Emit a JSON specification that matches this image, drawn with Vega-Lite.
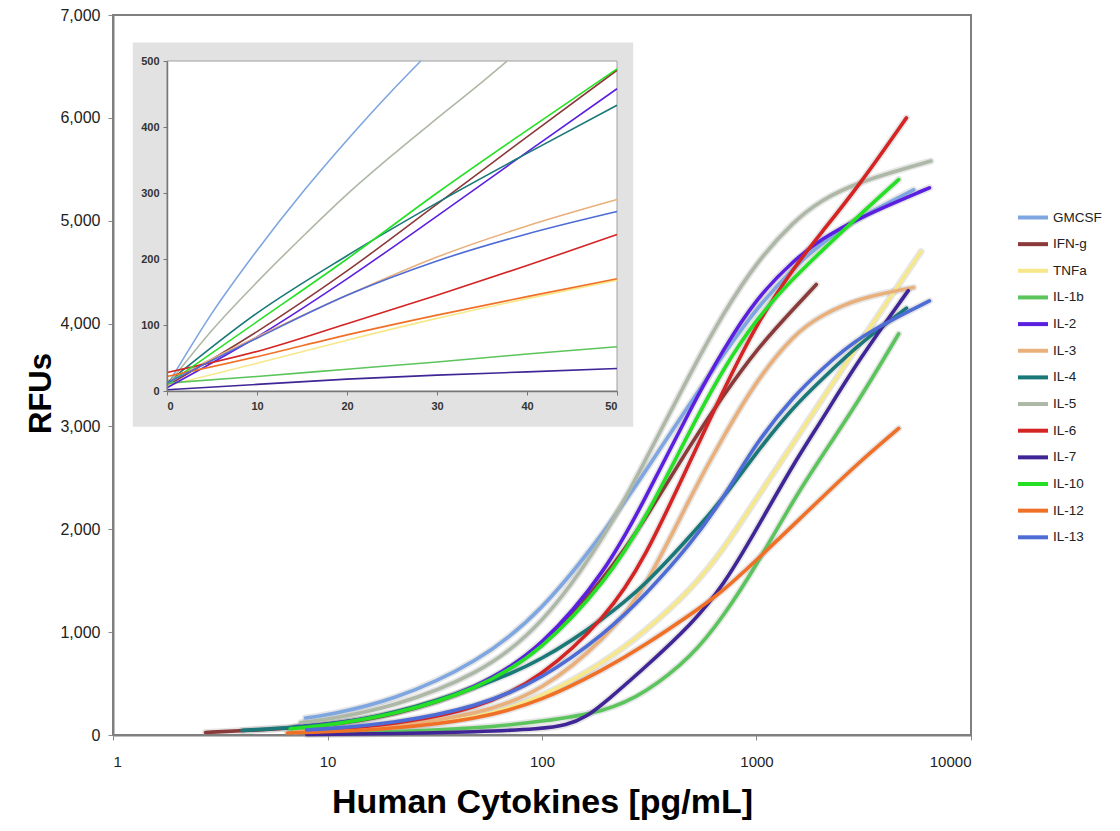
{
  "$schema": "https://vega.github.io/schema/vega-lite/v6.json",
  "width": 858,
  "height": 720,
  "autosize": {"type": "none"},
  "padding": {"left": 113, "top": 15, "right": 149, "bottom": 96},
  "background": "white",
  "config": {
    "view": {"stroke": "#7f7f7f", "strokeWidth": 2},
    "font": "Liberation Sans"
  },
  "datasets": {
    "main": [
      {"cytokine": "GMCSF", "conc": 7.9, "rfu": 165}, {"cytokine": "GMCSF", "conc": 10, "rfu": 195}, {"cytokine": "GMCSF", "conc": 20, "rfu": 330}, {"cytokine": "GMCSF", "conc": 50, "rfu": 700}, {"cytokine": "GMCSF", "conc": 100, "rfu": 1200}, {"cytokine": "GMCSF", "conc": 200, "rfu": 2000}, {"cytokine": "GMCSF", "conc": 300, "rfu": 2550}, {"cytokine": "GMCSF", "conc": 500, "rfu": 3250}, {"cytokine": "GMCSF", "conc": 700, "rfu": 3700}, {"cytokine": "GMCSF", "conc": 1000, "rfu": 4150}, {"cytokine": "GMCSF", "conc": 1500, "rfu": 4550}, {"cytokine": "GMCSF", "conc": 2000, "rfu": 4780}, {"cytokine": "GMCSF", "conc": 3000, "rfu": 5030}, {"cytokine": "GMCSF", "conc": 5400, "rfu": 5300},
      {"cytokine": "IFN-g", "conc": 2.7, "rfu": 25}, {"cytokine": "IFN-g", "conc": 4, "rfu": 40}, {"cytokine": "IFN-g", "conc": 10, "rfu": 90}, {"cytokine": "IFN-g", "conc": 20, "rfu": 185}, {"cytokine": "IFN-g", "conc": 50, "rfu": 440}, {"cytokine": "IFN-g", "conc": 100, "rfu": 830}, {"cytokine": "IFN-g", "conc": 200, "rfu": 1550}, {"cytokine": "IFN-g", "conc": 300, "rfu": 2080}, {"cytokine": "IFN-g", "conc": 500, "rfu": 2850}, {"cytokine": "IFN-g", "conc": 700, "rfu": 3300}, {"cytokine": "IFN-g", "conc": 1000, "rfu": 3750}, {"cytokine": "IFN-g", "conc": 1500, "rfu": 4150}, {"cytokine": "IFN-g", "conc": 1900, "rfu": 4380},
      {"cytokine": "TNFa", "conc": 7, "rfu": 25}, {"cytokine": "TNFa", "conc": 10, "rfu": 35}, {"cytokine": "TNFa", "conc": 20, "rfu": 65}, {"cytokine": "TNFa", "conc": 50, "rfu": 160}, {"cytokine": "TNFa", "conc": 100, "rfu": 360}, {"cytokine": "TNFa", "conc": 200, "rfu": 720}, {"cytokine": "TNFa", "conc": 300, "rfu": 1000}, {"cytokine": "TNFa", "conc": 500, "rfu": 1420}, {"cytokine": "TNFa", "conc": 700, "rfu": 1800}, {"cytokine": "TNFa", "conc": 1000, "rfu": 2300}, {"cytokine": "TNFa", "conc": 1500, "rfu": 2850}, {"cytokine": "TNFa", "conc": 2000, "rfu": 3250}, {"cytokine": "TNFa", "conc": 3000, "rfu": 3800}, {"cytokine": "TNFa", "conc": 5850, "rfu": 4700},
      {"cytokine": "IL-1b", "conc": 8, "rfu": 15}, {"cytokine": "IL-1b", "conc": 10, "rfu": 18}, {"cytokine": "IL-1b", "conc": 20, "rfu": 30}, {"cytokine": "IL-1b", "conc": 50, "rfu": 65}, {"cytokine": "IL-1b", "conc": 100, "rfu": 130}, {"cytokine": "IL-1b", "conc": 200, "rfu": 230}, {"cytokine": "IL-1b", "conc": 300, "rfu": 400}, {"cytokine": "IL-1b", "conc": 500, "rfu": 760}, {"cytokine": "IL-1b", "conc": 700, "rfu": 1150}, {"cytokine": "IL-1b", "conc": 1000, "rfu": 1650}, {"cytokine": "IL-1b", "conc": 1500, "rfu": 2300}, {"cytokine": "IL-1b", "conc": 2000, "rfu": 2700}, {"cytokine": "IL-1b", "conc": 3000, "rfu": 3250}, {"cytokine": "IL-1b", "conc": 4600, "rfu": 3900},
      {"cytokine": "IL-2", "conc": 7, "rfu": 80}, {"cytokine": "IL-2", "conc": 10, "rfu": 105}, {"cytokine": "IL-2", "conc": 20, "rfu": 190}, {"cytokine": "IL-2", "conc": 50, "rfu": 450}, {"cytokine": "IL-2", "conc": 100, "rfu": 850}, {"cytokine": "IL-2", "conc": 200, "rfu": 1600}, {"cytokine": "IL-2", "conc": 300, "rfu": 2280}, {"cytokine": "IL-2", "conc": 500, "rfu": 3200}, {"cytokine": "IL-2", "conc": 700, "rfu": 3750}, {"cytokine": "IL-2", "conc": 1000, "rfu": 4250}, {"cytokine": "IL-2", "conc": 1500, "rfu": 4620}, {"cytokine": "IL-2", "conc": 2000, "rfu": 4820}, {"cytokine": "IL-2", "conc": 3000, "rfu": 5030}, {"cytokine": "IL-2", "conc": 6400, "rfu": 5320},
      {"cytokine": "IL-3", "conc": 7, "rfu": 30}, {"cytokine": "IL-3", "conc": 10, "rfu": 40}, {"cytokine": "IL-3", "conc": 20, "rfu": 80}, {"cytokine": "IL-3", "conc": 50, "rfu": 200}, {"cytokine": "IL-3", "conc": 100, "rfu": 420}, {"cytokine": "IL-3", "conc": 200, "rfu": 950}, {"cytokine": "IL-3", "conc": 300, "rfu": 1400}, {"cytokine": "IL-3", "conc": 500, "rfu": 2350}, {"cytokine": "IL-3", "conc": 700, "rfu": 2900}, {"cytokine": "IL-3", "conc": 1000, "rfu": 3450}, {"cytokine": "IL-3", "conc": 1500, "rfu": 3900}, {"cytokine": "IL-3", "conc": 2000, "rfu": 4080}, {"cytokine": "IL-3", "conc": 3000, "rfu": 4250}, {"cytokine": "IL-3", "conc": 5400, "rfu": 4350},
      {"cytokine": "IL-4", "conc": 4, "rfu": 45}, {"cytokine": "IL-4", "conc": 10, "rfu": 90}, {"cytokine": "IL-4", "conc": 20, "rfu": 200}, {"cytokine": "IL-4", "conc": 50, "rfu": 460}, {"cytokine": "IL-4", "conc": 100, "rfu": 720}, {"cytokine": "IL-4", "conc": 200, "rfu": 1150}, {"cytokine": "IL-4", "conc": 300, "rfu": 1450}, {"cytokine": "IL-4", "conc": 500, "rfu": 1950}, {"cytokine": "IL-4", "conc": 700, "rfu": 2300}, {"cytokine": "IL-4", "conc": 1000, "rfu": 2750}, {"cytokine": "IL-4", "conc": 1500, "rfu": 3200}, {"cytokine": "IL-4", "conc": 2000, "rfu": 3450}, {"cytokine": "IL-4", "conc": 3000, "rfu": 3800}, {"cytokine": "IL-4", "conc": 5000, "rfu": 4150},
      {"cytokine": "IL-5", "conc": 7.5, "rfu": 120}, {"cytokine": "IL-5", "conc": 10, "rfu": 150}, {"cytokine": "IL-5", "conc": 20, "rfu": 270}, {"cytokine": "IL-5", "conc": 50, "rfu": 580}, {"cytokine": "IL-5", "conc": 100, "rfu": 1050}, {"cytokine": "IL-5", "conc": 200, "rfu": 1950}, {"cytokine": "IL-5", "conc": 300, "rfu": 2650}, {"cytokine": "IL-5", "conc": 500, "rfu": 3550}, {"cytokine": "IL-5", "conc": 700, "rfu": 4100}, {"cytokine": "IL-5", "conc": 1000, "rfu": 4600}, {"cytokine": "IL-5", "conc": 1500, "rfu": 5000}, {"cytokine": "IL-5", "conc": 2000, "rfu": 5200}, {"cytokine": "IL-5", "conc": 3000, "rfu": 5380}, {"cytokine": "IL-5", "conc": 6500, "rfu": 5580},
      {"cytokine": "IL-6", "conc": 8, "rfu": 45}, {"cytokine": "IL-6", "conc": 10, "rfu": 55}, {"cytokine": "IL-6", "conc": 20, "rfu": 100}, {"cytokine": "IL-6", "conc": 50, "rfu": 250}, {"cytokine": "IL-6", "conc": 100, "rfu": 560}, {"cytokine": "IL-6", "conc": 200, "rfu": 1150}, {"cytokine": "IL-6", "conc": 300, "rfu": 1700}, {"cytokine": "IL-6", "conc": 500, "rfu": 2700}, {"cytokine": "IL-6", "conc": 700, "rfu": 3350}, {"cytokine": "IL-6", "conc": 1000, "rfu": 4000}, {"cytokine": "IL-6", "conc": 1500, "rfu": 4550}, {"cytokine": "IL-6", "conc": 2000, "rfu": 4880}, {"cytokine": "IL-6", "conc": 3000, "rfu": 5340}, {"cytokine": "IL-6", "conc": 5000, "rfu": 6000},
      {"cytokine": "IL-7", "conc": 8, "rfu": 5}, {"cytokine": "IL-7", "conc": 10, "rfu": 7}, {"cytokine": "IL-7", "conc": 20, "rfu": 12}, {"cytokine": "IL-7", "conc": 50, "rfu": 30}, {"cytokine": "IL-7", "conc": 100, "rfu": 60}, {"cytokine": "IL-7", "conc": 130, "rfu": 95}, {"cytokine": "IL-7", "conc": 160, "rfu": 170}, {"cytokine": "IL-7", "conc": 200, "rfu": 330}, {"cytokine": "IL-7", "conc": 300, "rfu": 650}, {"cytokine": "IL-7", "conc": 500, "rfu": 1080}, {"cytokine": "IL-7", "conc": 700, "rfu": 1450}, {"cytokine": "IL-7", "conc": 1000, "rfu": 2000}, {"cytokine": "IL-7", "conc": 1500, "rfu": 2650}, {"cytokine": "IL-7", "conc": 2000, "rfu": 3050}, {"cytokine": "IL-7", "conc": 3000, "rfu": 3650}, {"cytokine": "IL-7", "conc": 5100, "rfu": 4320},
      {"cytokine": "IL-10", "conc": 6.7, "rfu": 60}, {"cytokine": "IL-10", "conc": 10, "rfu": 95}, {"cytokine": "IL-10", "conc": 20, "rfu": 190}, {"cytokine": "IL-10", "conc": 50, "rfu": 440}, {"cytokine": "IL-10", "conc": 100, "rfu": 820}, {"cytokine": "IL-10", "conc": 200, "rfu": 1500}, {"cytokine": "IL-10", "conc": 300, "rfu": 2080}, {"cytokine": "IL-10", "conc": 500, "rfu": 3000}, {"cytokine": "IL-10", "conc": 700, "rfu": 3560}, {"cytokine": "IL-10", "conc": 1000, "rfu": 4050}, {"cytokine": "IL-10", "conc": 1500, "rfu": 4450}, {"cytokine": "IL-10", "conc": 2000, "rfu": 4700}, {"cytokine": "IL-10", "conc": 3000, "rfu": 5050}, {"cytokine": "IL-10", "conc": 4600, "rfu": 5400},
      {"cytokine": "IL-12", "conc": 6.5, "rfu": 20}, {"cytokine": "IL-12", "conc": 10, "rfu": 30}, {"cytokine": "IL-12", "conc": 20, "rfu": 60}, {"cytokine": "IL-12", "conc": 50, "rfu": 150}, {"cytokine": "IL-12", "conc": 100, "rfu": 330}, {"cytokine": "IL-12", "conc": 200, "rfu": 650}, {"cytokine": "IL-12", "conc": 300, "rfu": 870}, {"cytokine": "IL-12", "conc": 500, "rfu": 1180}, {"cytokine": "IL-12", "conc": 700, "rfu": 1400}, {"cytokine": "IL-12", "conc": 1000, "rfu": 1700}, {"cytokine": "IL-12", "conc": 1500, "rfu": 2050}, {"cytokine": "IL-12", "conc": 2000, "rfu": 2300}, {"cytokine": "IL-12", "conc": 3000, "rfu": 2650}, {"cytokine": "IL-12", "conc": 4600, "rfu": 2980},
      {"cytokine": "IL-13", "conc": 8, "rfu": 50}, {"cytokine": "IL-13", "conc": 10, "rfu": 60}, {"cytokine": "IL-13", "conc": 20, "rfu": 110}, {"cytokine": "IL-13", "conc": 50, "rfu": 270}, {"cytokine": "IL-13", "conc": 100, "rfu": 540}, {"cytokine": "IL-13", "conc": 200, "rfu": 1000}, {"cytokine": "IL-13", "conc": 300, "rfu": 1350}, {"cytokine": "IL-13", "conc": 500, "rfu": 1870}, {"cytokine": "IL-13", "conc": 700, "rfu": 2300}, {"cytokine": "IL-13", "conc": 1000, "rfu": 2850}, {"cytokine": "IL-13", "conc": 1500, "rfu": 3300}, {"cytokine": "IL-13", "conc": 2000, "rfu": 3550}, {"cytokine": "IL-13", "conc": 3000, "rfu": 3880}, {"cytokine": "IL-13", "conc": 6400, "rfu": 4220}
    ],
    "inset": [
      {"cytokine": "GMCSF", "conc": 0, "rfu": 8}, {"cytokine": "GMCSF", "conc": 5, "rfu": 118}, {"cytokine": "GMCSF", "conc": 10, "rfu": 213}, {"cytokine": "GMCSF", "conc": 15, "rfu": 300}, {"cytokine": "GMCSF", "conc": 20, "rfu": 380}, {"cytokine": "GMCSF", "conc": 25, "rfu": 455}, {"cytokine": "GMCSF", "conc": 28.2, "rfu": 500},
      {"cytokine": "IFN-g", "conc": 0, "rfu": 8}, {"cytokine": "IFN-g", "conc": 10, "rfu": 90}, {"cytokine": "IFN-g", "conc": 20, "rfu": 182}, {"cytokine": "IFN-g", "conc": 30, "rfu": 283}, {"cytokine": "IFN-g", "conc": 40, "rfu": 385}, {"cytokine": "IFN-g", "conc": 50, "rfu": 486},
      {"cytokine": "TNFa", "conc": 0, "rfu": 8}, {"cytokine": "TNFa", "conc": 10, "rfu": 42}, {"cytokine": "TNFa", "conc": 20, "rfu": 77}, {"cytokine": "TNFa", "conc": 30, "rfu": 110}, {"cytokine": "TNFa", "conc": 40, "rfu": 140}, {"cytokine": "TNFa", "conc": 50, "rfu": 168},
      {"cytokine": "IL-1b", "conc": 0, "rfu": 12}, {"cytokine": "IL-1b", "conc": 10, "rfu": 22}, {"cytokine": "IL-1b", "conc": 20, "rfu": 33}, {"cytokine": "IL-1b", "conc": 30, "rfu": 44}, {"cytokine": "IL-1b", "conc": 40, "rfu": 56}, {"cytokine": "IL-1b", "conc": 50, "rfu": 67},
      {"cytokine": "IL-2", "conc": 0, "rfu": 5}, {"cytokine": "IL-2", "conc": 10, "rfu": 82}, {"cytokine": "IL-2", "conc": 20, "rfu": 170}, {"cytokine": "IL-2", "conc": 30, "rfu": 265}, {"cytokine": "IL-2", "conc": 40, "rfu": 362}, {"cytokine": "IL-2", "conc": 50, "rfu": 458},
      {"cytokine": "IL-3", "conc": 0, "rfu": 15}, {"cytokine": "IL-3", "conc": 10, "rfu": 82}, {"cytokine": "IL-3", "conc": 20, "rfu": 145}, {"cytokine": "IL-3", "conc": 30, "rfu": 203}, {"cytokine": "IL-3", "conc": 40, "rfu": 250}, {"cytokine": "IL-3", "conc": 50, "rfu": 290},
      {"cytokine": "IL-4", "conc": 0, "rfu": 12}, {"cytokine": "IL-4", "conc": 10, "rfu": 118}, {"cytokine": "IL-4", "conc": 20, "rfu": 205}, {"cytokine": "IL-4", "conc": 30, "rfu": 285}, {"cytokine": "IL-4", "conc": 40, "rfu": 360}, {"cytokine": "IL-4", "conc": 50, "rfu": 433},
      {"cytokine": "IL-5", "conc": 0, "rfu": 8}, {"cytokine": "IL-5", "conc": 5, "rfu": 92}, {"cytokine": "IL-5", "conc": 10, "rfu": 165}, {"cytokine": "IL-5", "conc": 15, "rfu": 233}, {"cytokine": "IL-5", "conc": 20, "rfu": 298}, {"cytokine": "IL-5", "conc": 25, "rfu": 357}, {"cytokine": "IL-5", "conc": 30, "rfu": 413}, {"cytokine": "IL-5", "conc": 35, "rfu": 468}, {"cytokine": "IL-5", "conc": 37.8, "rfu": 500},
      {"cytokine": "IL-6", "conc": 0, "rfu": 28}, {"cytokine": "IL-6", "conc": 10, "rfu": 60}, {"cytokine": "IL-6", "conc": 20, "rfu": 102}, {"cytokine": "IL-6", "conc": 30, "rfu": 145}, {"cytokine": "IL-6", "conc": 40, "rfu": 190}, {"cytokine": "IL-6", "conc": 50, "rfu": 237},
      {"cytokine": "IL-7", "conc": 0, "rfu": 2}, {"cytokine": "IL-7", "conc": 10, "rfu": 10}, {"cytokine": "IL-7", "conc": 20, "rfu": 18}, {"cytokine": "IL-7", "conc": 30, "rfu": 24}, {"cytokine": "IL-7", "conc": 40, "rfu": 29}, {"cytokine": "IL-7", "conc": 50, "rfu": 34},
      {"cytokine": "IL-10", "conc": 0, "rfu": 10}, {"cytokine": "IL-10", "conc": 10, "rfu": 105}, {"cytokine": "IL-10", "conc": 20, "rfu": 200}, {"cytokine": "IL-10", "conc": 30, "rfu": 300}, {"cytokine": "IL-10", "conc": 40, "rfu": 395}, {"cytokine": "IL-10", "conc": 50, "rfu": 488},
      {"cytokine": "IL-12", "conc": 0, "rfu": 22}, {"cytokine": "IL-12", "conc": 10, "rfu": 52}, {"cytokine": "IL-12", "conc": 20, "rfu": 85}, {"cytokine": "IL-12", "conc": 30, "rfu": 115}, {"cytokine": "IL-12", "conc": 40, "rfu": 143}, {"cytokine": "IL-12", "conc": 50, "rfu": 170},
      {"cytokine": "IL-13", "conc": 0, "rfu": 12}, {"cytokine": "IL-13", "conc": 10, "rfu": 80}, {"cytokine": "IL-13", "conc": 20, "rfu": 145}, {"cytokine": "IL-13", "conc": 30, "rfu": 197}, {"cytokine": "IL-13", "conc": 40, "rfu": 238}, {"cytokine": "IL-13", "conc": 50, "rfu": 272}
    ],
    "insetPanel": [{"x1": -3.8, "x2": 51.8, "y1": -54, "y2": 528}],
    "insetPlot": [{"x1": 0, "x2": 50, "y1": 0, "y2": 500}]
  },
  "layer": [
    {
      "data": {"name": "main"},
      "encoding": {
        "x": {
          "field": "conc", "type": "quantitative",
          "scale": {"type": "log", "domain": [1, 10000]},
          "axis": {
            "orient": "bottom", "values": [1, 10, 100, 1000, 10000], "format": "d", "grid": false,
            "title": "Human Cytokines [pg/mL]", "titleFont": "Liberation Sans", "titleFontSize": 34, "titleFontWeight": "bold", "titleColor": "#000000",
            "titleBaseline": "middle", "titleY": 67,
            "labelFont": "Liberation Sans", "labelFontSize": 15, "labelColor": "#222222", "labelPadding": 14,
            "tickSize": 5, "tickColor": "#8a8a8a", "tickWidth": 1, "domainColor": "#7f7f7f", "domainWidth": 2
          }
        },
        "y": {
          "field": "rfu", "type": "quantitative",
          "scale": {"domain": [0, 7000], "nice": false},
          "axis": {
            "orient": "left", "values": [0, 1000, 2000, 3000, 4000, 5000, 6000, 7000], "format": ",.0f", "grid": false,
            "title": "RFUs", "titleFont": "Liberation Sans", "titleFontSize": 31, "titleFontWeight": "bold", "titleColor": "#000000",
            "titleAngle": -90, "titleAlign": "center", "titleBaseline": "middle", "titleX": -72, "titleY": 378,
            "labelFont": "Liberation Sans", "labelFontSize": 16, "labelColor": "#222222", "labelPadding": 8,
            "tickSize": 5, "tickColor": "#8a8a8a", "domainColor": "#7f7f7f", "domainWidth": 2
          }
        }
      },
      "layer": [
        {
          "mark": {"type": "line", "interpolate": "basis", "stroke": "#8c8c8c", "opacity": 0.22, "strokeWidth": 7, "strokeCap": "round"},
          "encoding": {"detail": {"field": "cytokine", "type": "nominal"}}
        },
        {
          "mark": {"type": "line", "interpolate": "basis", "strokeWidth": 3.6, "strokeCap": "round"},
          "encoding": {
            "color": {
              "field": "cytokine", "type": "nominal",
              "scale": {
                "domain": ["GMCSF", "IFN-g", "TNFa", "IL-1b", "IL-2", "IL-3", "IL-4", "IL-5", "IL-6", "IL-7", "IL-10", "IL-12", "IL-13"],
                "range": ["#7ea6e0", "#8b3a3a", "#f6e88a", "#5cc45c", "#5b1fe0", "#e9b07c", "#1a7878", "#aeb8a6", "#d42424", "#3f2596", "#25e025", "#f07028", "#4e6cd6"]
              },
              "legend": {
                "orient": "none", "legendX": 910.5, "legendY": 193, "title": null, "padding": 0,
                "symbolType": "M-2,0L2,0", "symbolSize": 225, "symbolStrokeWidth": 4,
                "labelFont": "Liberation Sans", "labelFontSize": 13.5, "labelColor": "#222222", "labelOffset": 10.5,
                "rowPadding": 8.65
              }
            }
          }
        }
      ]
    },
    {
      "layer": [
        {
          "data": {"name": "insetPanel"},
          "mark": {"type": "rect", "fill": "#e2e2e2"},
          "encoding": {
            "x": {"field": "x1", "type": "quantitative", "scale": {"domain": [0, 50], "range": [54, 504], "nice": false, "zero": false},
              "axis": {"orient": "bottom", "offset": -344, "zindex": 1, "values": [0, 10, 20, 30, 40, 50], "title": null, "grid": false, "labelFontSize": 11, "labelFontWeight": "bold", "labelColor": "#333333", "labelPadding": 5, "tickSize": 4, "tickColor": "#777777", "domainColor": "#777777", "domainWidth": 1.5}},
            "x2": {"field": "x2"},
            "y": {"field": "y1", "type": "quantitative", "scale": {"domain": [0, 500], "range": [376, 46], "nice": false, "zero": false},
              "axis": {"orient": "left", "offset": -54, "zindex": 1, "values": [0, 100, 200, 300, 400, 500], "title": null, "grid": false, "labelFontSize": 11, "labelFontWeight": "bold", "labelColor": "#333333", "labelPadding": 4, "tickSize": 4, "tickColor": "#777777", "domainColor": "#777777", "domainWidth": 1.5}},
            "y2": {"field": "y2"}
          }
        },
        {
          "data": {"name": "insetPlot"},
          "mark": {"type": "rect", "fill": "#ffffff", "stroke": "#a0a0a0", "strokeWidth": 1},
          "encoding": {
            "x": {"field": "x1", "type": "quantitative",
              "axis": {"orient": "bottom", "offset": -344, "zindex": 1, "values": [0, 10, 20, 30, 40, 50], "title": null, "grid": false, "labelFontSize": 11, "labelFontWeight": "bold", "labelColor": "#333333", "labelPadding": 5, "tickSize": 4, "tickColor": "#777777", "domainColor": "#777777", "domainWidth": 1.5}},
            "x2": {"field": "x2"},
            "y": {"field": "y1", "type": "quantitative",
              "axis": {"orient": "left", "offset": -54, "zindex": 1, "values": [0, 100, 200, 300, 400, 500], "title": null, "grid": false, "labelFontSize": 11, "labelFontWeight": "bold", "labelColor": "#333333", "labelPadding": 4, "tickSize": 4, "tickColor": "#777777", "domainColor": "#777777", "domainWidth": 1.5}},
            "y2": {"field": "y2"}
          }
        },
        {
          "data": {"name": "inset"},
          "mark": {"type": "line", "interpolate": "monotone", "strokeWidth": 1.6},
          "encoding": {
            "x": {"field": "conc", "type": "quantitative",
              "axis": {"orient": "bottom", "offset": -344, "zindex": 1, "values": [0, 10, 20, 30, 40, 50], "title": null, "grid": false, "labelFontSize": 11, "labelFontWeight": "bold", "labelColor": "#333333", "labelPadding": 5, "tickSize": 4, "tickColor": "#777777", "domainColor": "#777777", "domainWidth": 1.5}},
            "y": {"field": "rfu", "type": "quantitative",
              "axis": {"orient": "left", "offset": -54, "zindex": 1, "values": [0, 100, 200, 300, 400, 500], "title": null, "grid": false, "labelFontSize": 11, "labelFontWeight": "bold", "labelColor": "#333333", "labelPadding": 4, "tickSize": 4, "tickColor": "#777777", "domainColor": "#777777", "domainWidth": 1.5}},
            "color": {"field": "cytokine", "type": "nominal"}
          }
        }
      ]
    }
  ],
  "resolve": {"scale": {"x": "independent", "y": "independent"}}
}
